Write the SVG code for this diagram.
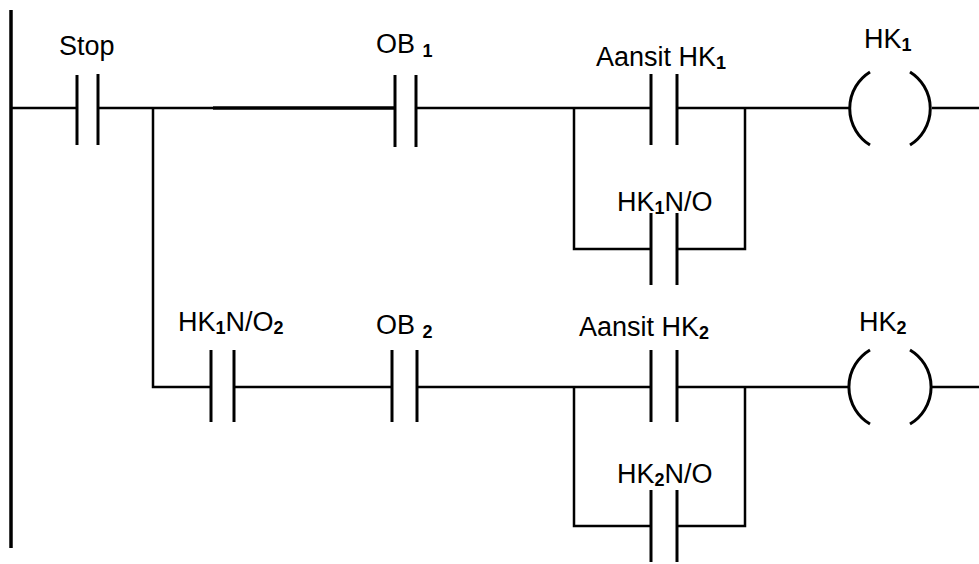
<svg xmlns="http://www.w3.org/2000/svg" width="979" height="564" viewBox="0 0 979 564">
<style>
.w{stroke:#000;stroke-width:2.5;fill:none;stroke-linecap:butt}
.p{stroke:#000;stroke-width:3;fill:none}
.r{stroke:#000;stroke-width:3.5;fill:none}
.t{font-family:"Liberation Sans",Arial,sans-serif;font-size:27px;fill:#000}
.s{font-size:18px;font-weight:bold}
</style>
<rect width="979" height="564" fill="#fff"/>
<g id="connectors">
<line class="r" x1="11" y1="10" x2="11" y2="548"/>
<path class="w" d="M11,108 H77 M98,108 H213 M416,108 H651 M677,108 H850 M932,108 H979"/>
<path class="r" d="M213,108 H395"/>
<path class="w" d="M153,108 V387 H211 M234,387 H392 M417,387 H651 M677,387 H848 M932,387 H979"/>
<path class="w" d="M574,108 V249 H651 M677,249 H745 V108"/>
<path class="w" d="M574,387 V526 H651 M677,526 H745 V387"/>
</g>
<g id="stop">
<line class="p" x1="77" y1="75" x2="77" y2="145"/>
<line class="p" x1="98" y1="74" x2="98" y2="145"/>
<text class="t" x="59" y="55">Stop</text>
</g>
<g id="ob1">
<line class="p" x1="395" y1="75" x2="395" y2="147"/>
<line class="p" x1="416" y1="75" x2="416" y2="147"/>
<text class="t" x="376" y="53">OB <tspan class="s" dy="4">1</tspan></text>
</g>
<g id="aansit1">
<line class="p" x1="651" y1="74" x2="651" y2="145"/>
<line class="p" x1="677" y1="74" x2="677" y2="145"/>
<text class="t" x="596" y="66">Aansit HK<tspan class="s" dy="3">1</tspan></text>
</g>
<g id="hk1no">
<line class="p" x1="651" y1="213" x2="651" y2="285"/>
<line class="p" x1="677" y1="213" x2="677" y2="285"/>
<text class="t" x="617" y="211">HK<tspan class="s" dy="3">1</tspan><tspan dy="-3">N/O</tspan></text>
</g>
<g id="coil1">
<path class="p" d="M870,72 A43,43 0 0 0 870,145 M910,72 A43,43 0 0 1 910,145"/>
<text class="t" x="864" y="48">HK<tspan class="s" dy="3">1</tspan></text>
</g>
<g id="hk1no2">
<line class="p" x1="211" y1="350" x2="211" y2="422"/>
<line class="p" x1="234" y1="350" x2="234" y2="422"/>
<text class="t" x="178" y="331">HK<tspan class="s" dy="3">1</tspan><tspan dy="-3">N/O</tspan><tspan class="s" dy="3">2</tspan></text>
</g>
<g id="ob2">
<line class="p" x1="392" y1="350" x2="392" y2="422"/>
<line class="p" x1="417" y1="350" x2="417" y2="422"/>
<text class="t" x="376" y="334">OB <tspan class="s" dy="4">2</tspan></text>
</g>
<g id="aansit2">
<line class="p" x1="651" y1="350" x2="651" y2="422"/>
<line class="p" x1="677" y1="350" x2="677" y2="422"/>
<text class="t" x="579" y="336">Aansit HK<tspan class="s" dy="3">2</tspan></text>
</g>
<g id="hk2no">
<line class="p" x1="651" y1="490" x2="651" y2="562"/>
<line class="p" x1="677" y1="490" x2="677" y2="562"/>
<text class="t" x="617" y="483">HK<tspan class="s" dy="3">2</tspan><tspan dy="-3">N/O</tspan></text>
</g>
<g id="coil2">
<path class="p" d="M870,350 A43,43 0 0 0 870,424 M910,350 A43,43 0 0 1 910,424"/>
<text class="t" x="859" y="331">HK<tspan class="s" dy="3">2</tspan></text>
</g>
</svg>
